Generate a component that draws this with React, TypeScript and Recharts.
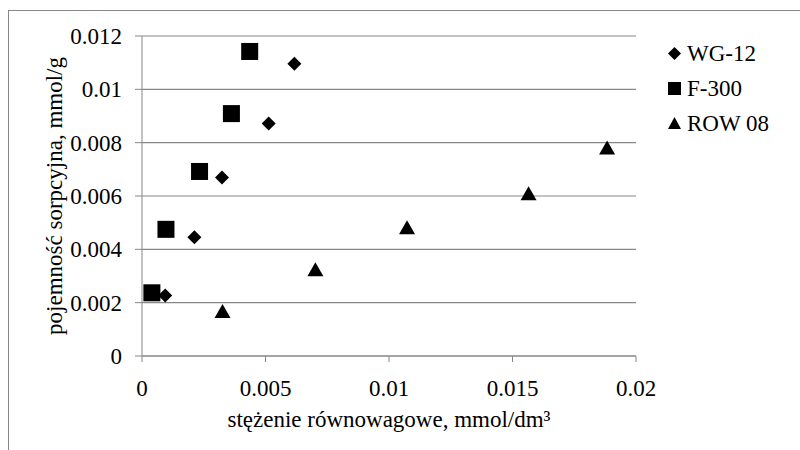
import { ScatterChart, Scatter, XAxis, YAxis, CartesianGrid, Legend } from 'recharts';

const wg12 = [
  { x: 0.00094, y: 0.00227 },
  { x: 0.00212, y: 0.00445 },
  { x: 0.00324, y: 0.00669 },
  { x: 0.00513, y: 0.00872 },
  { x: 0.00617, y: 0.01096 },
];

const f300 = [
  { x: 0.0004, y: 0.00237 },
  { x: 0.00097, y: 0.00475 },
  { x: 0.00233, y: 0.00692 },
  { x: 0.00362, y: 0.00909 },
  { x: 0.00436, y: 0.01142 },
];

const row08 = [
  { x: 0.00326, y: 0.00165 },
  { x: 0.00702, y: 0.00322 },
  { x: 0.01073, y: 0.00479 },
  { x: 0.01565, y: 0.00607 },
  { x: 0.01883, y: 0.00778 },
];

const xTicks = [0, 0.005, 0.01, 0.015, 0.02];
const yTicks = [0, 0.002, 0.004, 0.006, 0.008, 0.01, 0.012];

const GRAY = '#878787';
const FONT = '"Liberation Serif", "Times New Roman", serif';

const Diamond = (props: any) => {
  const { cx, cy } = props;
  const r = 7;
  return <polygon points={`${cx},${cy - r} ${cx + r},${cy} ${cx},${cy + r} ${cx - r},${cy}`} fill="#000" />;
};

const Square = (props: any) => {
  const { cx, cy } = props;
  const h = 8.5;
  return <rect x={cx - h} y={cy - h} width={h * 2} height={h * 2} fill="#000" />;
};

const Triangle = (props: any) => {
  const { cx, cy } = props;
  return <polygon points={`${cx},${cy - 8} ${cx + 8},${cy + 6} ${cx - 8},${cy + 6}`} fill="#000" />;
};

const legendItems = [
  { name: 'WG-12', icon: <polygon points="6.5,0 13,6.5 6.5,13 0,6.5" fill="#000" /> },
  { name: 'F-300', icon: <rect x={0} y={0} width={13} height={13} fill="#000" /> },
  { name: 'ROW 08', icon: <polygon points="6.5,0 13,12 0,12" fill="#000" /> },
];

const renderLegend = () => (
  <div style={{ fontFamily: FONT, fontSize: 23, color: '#000' }}>
    {legendItems.map((it) => (
      <div key={it.name} style={{ height: 35, display: 'flex', alignItems: 'center' }}>
        <svg width={13} height={13} style={{ marginRight: 6 }}>
          {it.icon}
        </svg>
        <span>{it.name}</span>
      </div>
    ))}
  </div>
);

const tickStyle = { fill: '#000', fontSize: 23 };

export default function App() {
  return (
    <div style={{ position: 'relative', width: 800, height: 450, overflow: 'hidden', background: '#fff' }}>
      <style>{`body{margin:0} .recharts-wrapper text{font-family:${FONT} !important}`}</style>
      <div
        style={{
          position: 'absolute',
          left: 8,
          top: 10,
          width: 820,
          height: 470,
          border: `1.5px solid ${GRAY}`,
          boxSizing: 'border-box',
        }}
      />
      <ScatterChart
        width={800}
        height={450}
        margin={{ top: 36, right: 164, left: 0, bottom: 18 }}
        style={{ position: 'absolute', left: 0, top: 0 }}
      >
        <CartesianGrid vertical={false} stroke={GRAY} strokeWidth={1.2} />
        <XAxis
          type="number"
          dataKey="x"
          domain={[0, 0.02]}
          ticks={xTicks}
          height={76}
          stroke={GRAY}
          tickSize={6}
          tickMargin={18}
          tick={tickStyle}
          label={{
            value: 'stężenie równowagowe, mmol/dm³',
            position: 'insideBottom',
            offset: 5,
            fill: '#000',
            fontSize: 23,
          }}
        />
        <YAxis
          type="number"
          dataKey="y"
          domain={[0, 0.012]}
          ticks={yTicks}
          width={142}
          stroke={GRAY}
          tickSize={7}
          tickMargin={13}
          tick={tickStyle}
          label={{
            value: 'pojemność sorpcyjna, mmol/g',
            angle: -90,
            position: 'insideLeft',
            offset: 54,
            fill: '#000',
            fontSize: 23,
            style: { textAnchor: 'middle' },
          }}
        />
        <Legend
          layout="vertical"
          align="center"
          verticalAlign="middle"
          content={renderLegend}
          wrapperStyle={{ left: 668, top: 36, width: 130 }}
        />
        <Scatter name="WG-12" data={wg12} shape={Diamond} isAnimationActive={false} />
        <Scatter name="F-300" data={f300} shape={Square} isAnimationActive={false} />
        <Scatter name="ROW 08" data={row08} shape={Triangle} isAnimationActive={false} />
      </ScatterChart>
    </div>
  );
}
